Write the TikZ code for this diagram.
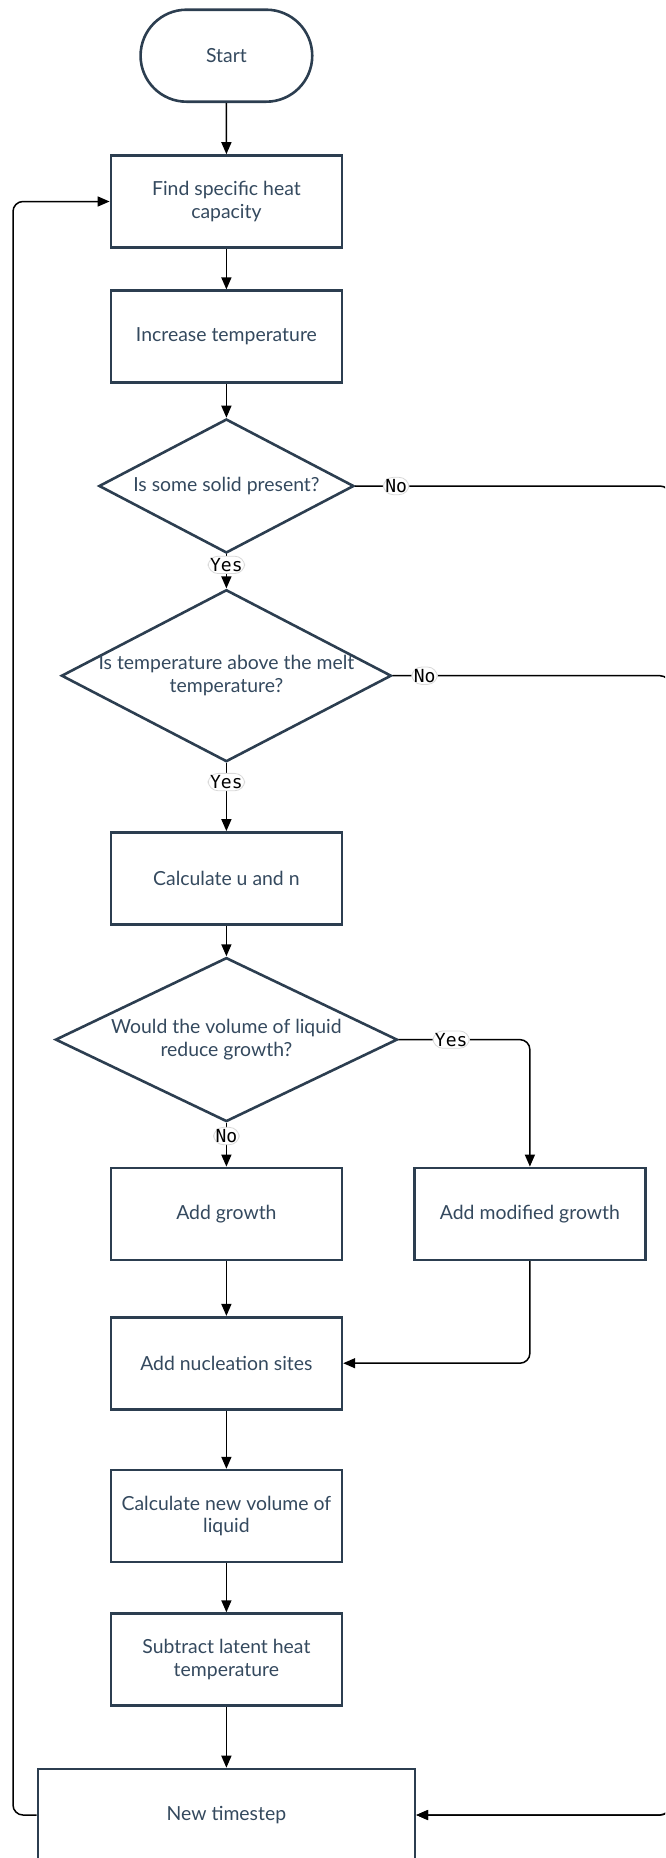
\documentclass[tikz,border=0pt]{standalone}
\usepackage{fontspec}
\setmainfont{Lato}
\setmonofont{DejaVu Sans Mono}
\usepackage{xcolor}
\usetikzlibrary{arrows.meta, positioning, shapes.geometric, shapes.misc}
\definecolor{boxline}{RGB}{44,62,80}
\definecolor{boxtext}{RGB}{52,73,94}

\begin{document}
\begin{tikzpicture}[
    x=0.5pt, y=-0.5pt,
    >={Triangle[length=6pt,width=5pt]},
    font=\fontsize{9.7}{11.3}\selectfont,
    startbox/.style={draw=boxline, line width=1.3pt, rounded rectangle, minimum width=92.5pt, minimum height=46pt, text=boxtext},
    stepbox/.style={draw=boxline, line width=1.3pt, rectangle, minimum width=115.5pt, minimum height=46pt, align=center, text=boxtext},
    decision/.style={draw=boxline, line width=1.3pt, diamond, inner sep=0pt},
    qtext/.style={text=boxtext, align=center},
    lbl/.style={font=\ttfamily\fontsize{9}{10}\selectfont, fill=white, draw=gray!30, line width=0.4pt, inner sep=1pt},
    arr/.style={->, line width=0.75pt, rounded corners=5pt}
]
\useasboundingbox (0,0) rectangle (665,1858);
\clip (0,0) rectangle (665,1858);

\node[startbox] (start) at (226.4,55.7) {Start};
\node[stepbox] (heat) at (226.4,201.5) {Find specific heat\\capacity};
\node[stepbox] (incr) at (226.4,336.7) {Increase temperature};
\node[decision, minimum width=127.5pt, minimum height=67pt, label={[qtext]center:Is some solid present?}] (solid) at (226.4,486) {};
\node[decision, minimum width=165pt, minimum height=86pt, label={[qtext]center:Is temperature above the melt\\temperature?}] (melt) at (226.4,675.7) {};
\node[stepbox] (calc) at (226.4,878.4) {Calculate u and n};
\node[decision, minimum width=171pt, minimum height=82pt, label={[qtext]center:Would the volume of liquid\\reduce growth?}] (liquid) at (226.4,1039.6) {};
\node[stepbox] (growth) at (226.4,1213.9) {Add growth};
\node[stepbox] (modgrowth) at (529.9,1213.9) {Add modified growth};
\node[stepbox] (nucl) at (226.4,1363.2) {Add nucleation sites};
\node[stepbox] (volume) at (226.4,1516.1) {Calculate new volume of\\liquid};
\node[stepbox] (latent) at (226.4,1659.6) {Subtract latent heat\\temperature};
\node[stepbox, minimum width=188.5pt] (timestep) at (226.4,1815) {New timestep};

\coordinate (lft) at (13,0);
\coordinate (rgt) at (670,0);

\draw[arr] (start) -- (heat);
\draw[arr] (heat) -- (incr);
\draw[arr] (incr) -- (solid);
\draw[arr] (solid) -- node[lbl, pos=0.31] {Yes} (melt);
\draw[arr] (melt) -- node[lbl, pos=0.28] {Yes} (calc);
\draw[arr] (calc) -- (liquid);
\draw[arr] (liquid) -- node[lbl, pos=0.3] {No} (growth);
\draw[arr] (liquid.east) -- node[lbl, pos=0.4] {Yes} (liquid.east -| modgrowth.north) -- (modgrowth.north);
\draw[arr] (growth) -- (nucl);
\draw[arr] (modgrowth.south) |- (nucl.east);
\draw[arr] (nucl) -- (volume);
\draw[arr] (volume) -- (latent);
\draw[arr] (latent) -- (timestep);

% back to the top and the two "No" exits
\draw[arr] (timestep.west) -- (timestep.west -| lft) |- (heat.west);
\draw[arr] (solid.east) -- node[lbl, pos=0.13] {No} (solid.east -| rgt) |- (timestep.east);
\draw[arr] (melt.east) -- node[lbl, pos=0.115] {No} (melt.east -| rgt) |- (timestep.east);

\end{tikzpicture}
\end{document}
